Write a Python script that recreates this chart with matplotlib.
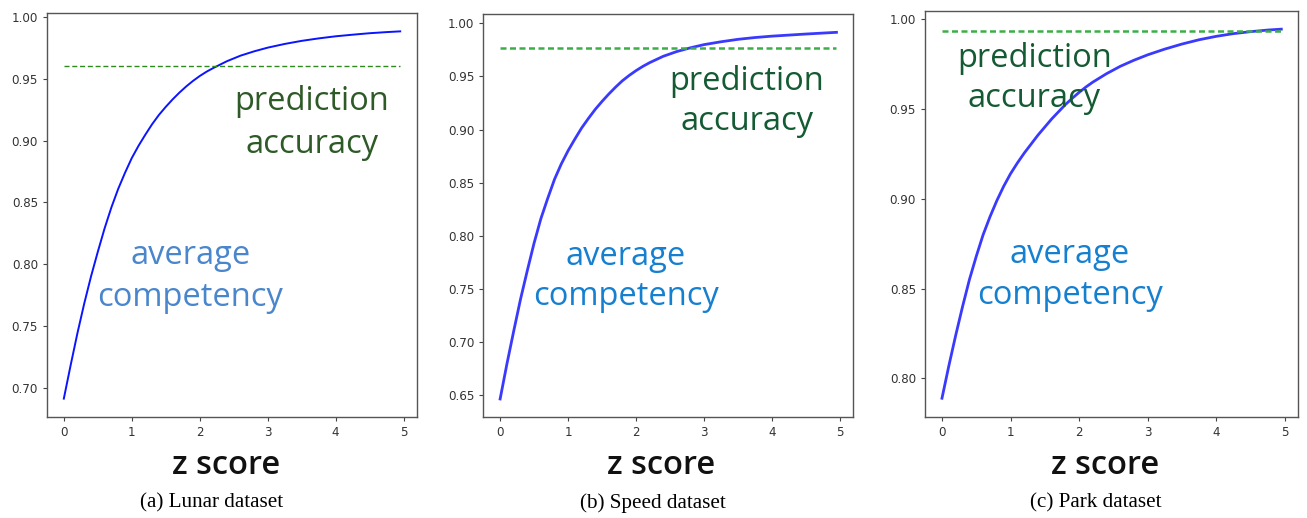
import matplotlib

matplotlib.use("Agg")
import matplotlib.pyplot as plt

# z score grid, values
z_vals = [0, 0.1, 0.2, 0.3, 0.4, 0.5, 0.6, 0.7, 0.8, 0.9, 1.0, 1.1, 1.2, 1.3, 1.4, 1.5,
          1.6, 1.7, 1.8, 1.9, 2.0, 2.1, 2.2, 2.4, 2.6, 2.8, 3.0, 3.25, 3.5, 3.75, 4.0,
          4.25, 4.5, 4.75, 4.95]

lunar_comp = [0.691, 0.718, 0.744, 0.768, 0.790, 0.810, 0.829, 0.846, 0.861, 0.874, 0.886,
              0.896, 0.905, 0.9135, 0.921, 0.9275, 0.9335, 0.939, 0.944, 0.9485, 0.9525,
              0.956, 0.959, 0.9645, 0.969, 0.9725, 0.9755, 0.9785, 0.981, 0.983, 0.9847,
              0.986, 0.9872, 0.9881, 0.9887]
speed_comp = [0.646, 0.679, 0.710, 0.740, 0.767, 0.793, 0.816, 0.835, 0.853, 0.8675, 0.880,
              0.891, 0.9015, 0.9105, 0.919, 0.9265, 0.9335, 0.940, 0.946, 0.951, 0.9555,
              0.9595, 0.963, 0.969, 0.9735, 0.977, 0.98, 0.9827, 0.985, 0.9867, 0.988,
              0.989, 0.99, 0.9909, 0.9916]
park_comp = [0.789, 0.807, 0.824, 0.840, 0.855, 0.868, 0.880, 0.890, 0.899, 0.907, 0.914,
             0.920, 0.9255, 0.9305, 0.9355, 0.940, 0.9445, 0.9485, 0.9525, 0.956, 0.9593,
             0.9623, 0.965, 0.9697, 0.9738, 0.9772, 0.9802, 0.9834, 0.9862, 0.9886, 0.9905,
             0.992, 0.9931, 0.994, 0.9945]

lunar_acc = 0.961
speed_acc = 0.977
park_acc = 0.9937

captions = ["(a) Lunar dataset", "(b) Speed dataset", "(c) Park dataset"]

W, H = 1307, 518
fig = plt.figure(figsize=(W / 100, H / 100), dpi=100)


def px_axes(left, top, right, bottom):
    return fig.add_axes([left / W, 1 - bottom / H, (right - left) / W, (bottom - top) / H])


panels = [
    dict(box=(47, 13, 417, 417), comp=lunar_comp, acc=lunar_acc, lw=1.4, curve="#0a14ff",
         dash_c="#2f8a1e", dash_lw=1.0, dashes=(3.6, 2.0), green="#2e5a27", blue="#4a86cc",
         pred=(0.716, 0.728), avg=(0.388, 0.348), ls=1.37, zx=226, cx=212),
    dict(box=(483.3, 14, 853.3, 417.3), comp=speed_comp, acc=speed_acc, lw=2.0, curve="#3a3aff",
         dash_c="#3cae48", dash_lw=1.8, dashes=(2.4, 1.4), green="#145a32", blue="#1680d0",
         pred=(0.712, 0.7825), avg=(0.385, 0.349), ls=1.3, zx=661, cx=653),
    dict(box=(925, 10.7, 1298.3, 416.7), comp=park_comp, acc=park_acc, lw=2.0, curve="#3a3aff",
         dash_c="#3cae48", dash_lw=1.8, dashes=(2.4, 1.4), green="#145a32", blue="#1680d0",
         pred=(0.293, 0.8335), avg=(0.388, 0.349), ls=1.3, zx=1105, cx=1096),
]

for p, cap in zip(panels, captions):
    ax = px_axes(*p["box"])
    ax.plot(z_vals, p["comp"], color=p["curve"], lw=p["lw"])
    ax.plot([z_vals[0], z_vals[-1]], [p["acc"], p["acc"]], color=p["dash_c"],
            lw=p["dash_lw"], ls=(0, p["dashes"]))
    for s in ax.spines.values():
        s.set_color("#555555")
        s.set_linewidth(1.0)
    ax.tick_params(labelsize=8.6, length=3, width=0.8, color="#444444", labelcolor="#333333")
    ax.text(p["pred"][0], p["pred"][1], "prediction\naccuracy", transform=ax.transAxes,
            ha="center", va="center", fontsize=23.5, color=p["green"], family="Open Sans",
            fontweight="medium", linespacing=p["ls"])
    ax.text(p["avg"][0], p["avg"][1], "average\ncompetency", transform=ax.transAxes,
            ha="center", va="center", fontsize=23.5, color=p["blue"], family="Open Sans",
            fontweight="medium", linespacing=p["ls"])
    fig.text(p["zx"] / W, 1 - 465 / H, "z score", ha="center", va="center",
             fontsize=23.5, color="#111111", family="Open Sans", fontweight="semibold")
    fig.text(p["cx"] / W, 1 - 503 / H, cap, ha="center", va="center",
             fontsize=15.2, color="black", family="Liberation Serif")

fig.savefig("out.png", dpi=100, facecolor="white")
